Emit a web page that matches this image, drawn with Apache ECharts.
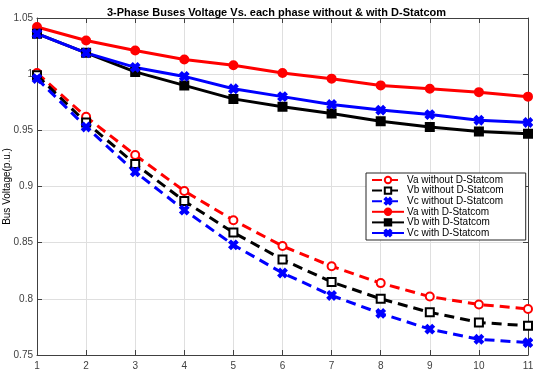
<!DOCTYPE html>
<html>
<head>
<meta charset="utf-8">
<script src="https://cdn.jsdelivr.net/npm/echarts@6/dist/echarts.min.js"></script>
<style>
  html, body { margin: 0; padding: 0; background: #fff; }
  #main { width: 533px; height: 372px; }
</style>
</head>
<body>
<div id="main"></div>
<script>
// bus numbers
var buses = ['1', '2', '3', '4', '5', '6', '7', '8', '9', '10', '11'];

// without D-Statcom
var vaWithout = [1.001, 0.962, 0.928, 0.896, 0.870, 0.847, 0.829, 0.814, 0.802, 0.795, 0.791];
var vbWithout = [0.999, 0.957, 0.920, 0.887, 0.859, 0.835, 0.815, 0.800, 0.788, 0.779, 0.776];
var vcWithout = [0.996, 0.953, 0.913, 0.879, 0.848, 0.823, 0.803, 0.787, 0.773, 0.764, 0.761];

// with D-Statcom
var vaWith = [1.042, 1.030, 1.021, 1.013, 1.008, 1.001, 0.996, 0.990, 0.987, 0.984, 0.980];
var vbWith = [1.036, 1.019, 1.002, 0.990, 0.978, 0.971, 0.965, 0.958, 0.953, 0.949, 0.947];
var vcWith = [1.036, 1.019, 1.006, 0.998, 0.987, 0.980, 0.973, 0.968, 0.964, 0.959, 0.957];

var yTicks = ['0.75', '0.8', '0.85', '0.9', '0.95', '1', '1.05'];

var RED = '#ff0000', BLACK = '#000000', BLUE = '#0000ff';
// filled x-shaped marker (matlab 'x')
var xMark = 'path://M0,2L2,0L5,3L8,0L10,2L7,5L10,8L8,10L5,7L2,10L0,8L3,5Z';
var axisCol = '#404040';
var font = 'Liberation Sans, Arial, sans-serif';

function mkSeries(name, data, color, symbol, dashed) {
    return {
        name: name,
        type: 'line',
        data: data,
        xAxisIndex: 0,
        yAxisIndex: 0,
        symbol: symbol,
        symbolSize: 8,
        showAllSymbol: true,
        itemStyle: { color: color, borderColor: color, borderWidth: 2 },
        lineStyle: { color: color, width: 3, type: dashed ? [10, 6] : 'solid' },
        animation: false
    };
}

var chart = echarts.init(document.getElementById('main'));
chart.setOption({
    backgroundColor: '#fff',
    title: {
        text: '3-Phase Buses Voltage Vs. each phase without & with D-Statcom',
        left: 102,
        top: 2,
        textStyle: { fontSize: 11, fontWeight: 'bold', color: '#000', fontFamily: font }
    },
    grid: { left: 37, right: 5, top: 18, bottom: 17, containLabel: false, outerBoundsMode: 'none' },
    legend: {
        orient: 'vertical',
        left: 366,
        top: 173,
        itemWidth: 32,
        itemHeight: 8,
        itemGap: 0.6,
        padding: [2, 22, 2, 5],
        backgroundColor: '#fff',
        borderColor: '#262626',
        borderWidth: 1,
        textStyle: { fontSize: 10, lineHeight: 10, color: '#000', fontFamily: font, padding: [0, 0, 0, -2] },
        data: ['Va without D-Statcom', 'Vb without D-Statcom', 'Vc without D-Statcom',
               'Va with D-Statcom', 'Vb with D-Statcom', 'Vc with D-Statcom']
    },
    xAxis: [{
        type: 'category',
        data: buses,
        boundaryGap: false,
        axisLine: { lineStyle: { color: axisCol, width: 1 } },
        axisTick: { inside: true, length: 5, lineStyle: { color: axisCol } },
        axisLabel: { color: axisCol, fontSize: 10, fontFamily: font, margin: 6 },
        splitLine: { show: true, lineStyle: { color: '#dfdfdf', width: 1 } }
    }, {
        type: 'category',
        data: buses,
        boundaryGap: false,
        position: 'top',
        axisLine: { lineStyle: { color: axisCol, width: 1 } },
        axisTick: { inside: true, length: 5, lineStyle: { color: axisCol } },
        axisLabel: { show: false },
        splitLine: { show: false }
    }],
    yAxis: [{
        type: 'value',
        min: 0.75,
        max: 1.05,
        interval: 0.05,
        name: 'Bus Voltage(p.u.)',
        nameLocation: 'middle',
        nameGap: 25,
        nameMoveOverlap: false,
        nameTextStyle: { fontSize: 10, color: '#000', fontFamily: font },
        axisLine: { show: true, lineStyle: { color: axisCol, width: 1 } },
        axisTick: { show: true, inside: true, length: 5, lineStyle: { color: axisCol } },
        axisLabel: {
            color: axisCol, fontSize: 10, fontFamily: font, margin: 4,
            formatter: function (v) {
                var i = Math.round((v - 0.75) / 0.05);
                return yTicks[i];
            }
        },
        splitLine: { show: true, lineStyle: { color: '#dfdfdf', width: 1 } }
    }, {
        type: 'value',
        min: 0.75,
        max: 1.05,
        interval: 0.05,
        position: 'right',
        axisLine: { show: true, lineStyle: { color: axisCol, width: 1 } },
        axisTick: { show: true, inside: true, length: 5, lineStyle: { color: axisCol } },
        axisLabel: { show: false },
        splitLine: { show: false }
    }],
    series: [
        mkSeries('Va without D-Statcom', vaWithout, RED, 'emptyCircle', true),
        mkSeries('Vb without D-Statcom', vbWithout, BLACK, 'emptyRect', true),
        mkSeries('Vc without D-Statcom', vcWithout, BLUE, xMark, true),
        mkSeries('Va with D-Statcom', vaWith, RED, 'circle', false),
        mkSeries('Vb with D-Statcom', vbWith, BLACK, 'rect', false),
        mkSeries('Vc with D-Statcom', vcWith, BLUE, xMark, false)
    ]
});
</script>
</body>
</html>
